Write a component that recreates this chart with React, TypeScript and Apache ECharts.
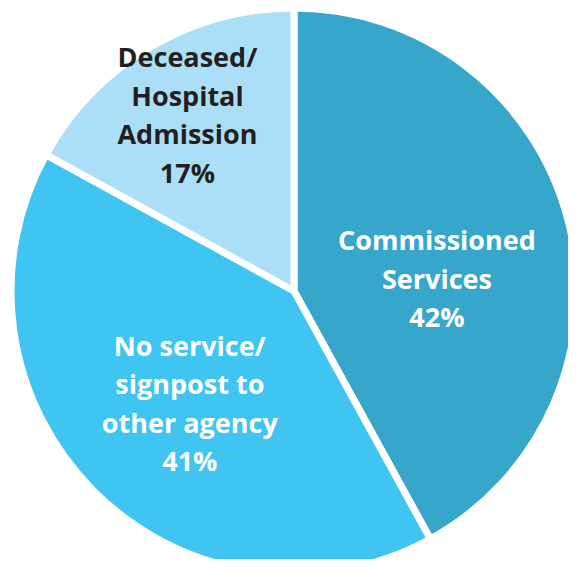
import React, { useEffect, useRef } from "react";
import * as echarts from "echarts";

const categories = [
  "Commissioned\nServices",
  "No service/\nsignpost to\nother agency",
  "Deceased/\nHospital\nAdmission",
];
const values = [42, 41, 17];
const colors = ["#37A6CB", "#40C4F1", "#ABDFF8"];
const labelColors = ["#FFFFFF", "#FFFFFF", "#231F20"];
const labelOffsets: [number, number][] = [
  [3, 23],
  [-2, 10],
  [-33, -52],
];

export default function App() {
  const ref = useRef<HTMLDivElement>(null);
  useEffect(() => {
    if (!ref.current) return;
    const chart = echarts.init(ref.current, undefined, { renderer: "svg" });
    chart.setOption({
      animation: false,
      series: [
        {
          type: "pie",
          center: [294, 291],
          radius: [0, 283],
          startAngle: 90,
          clockwise: true,
          avoidLabelOverlap: false,
          itemStyle: { borderColor: "#FFFFFF", borderWidth: 7 },
          label: {
            show: true,
            position: "inside",
            formatter: "{b}\n{c}%",
            fontFamily: "Open Sans",
            fontWeight: "bold",
            fontSize: 27,
            lineHeight: 38.5,
            align: "center",
          },
          labelLine: { show: false },
          emphasis: { disabled: true },
          data: categories.map((name, i) => ({
            name,
            value: values[i],
            itemStyle: { color: colors[i] },
            label: { color: labelColors[i], offset: labelOffsets[i] },
          })),
        },
      ],
    });
    return () => chart.dispose();
  }, []);
  return <div ref={ref} style={{ width: 576, height: 567, margin: -8 }} />;
}
